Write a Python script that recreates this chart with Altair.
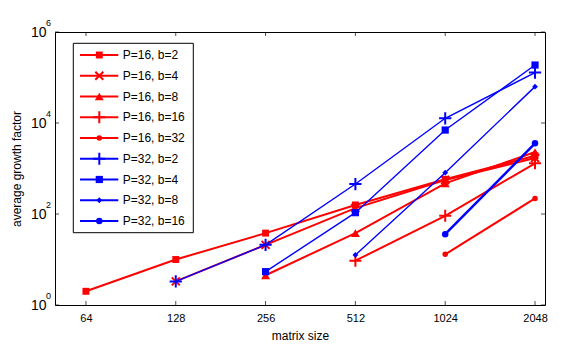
import altair as alt
import pandas as pd

# ---------------- data ----------------
sizes = [64, 128, 256, 512, 1024, 2048]

labels = ["P=16, b=2", "P=16, b=4", "P=16, b=8", "P=16, b=16", "P=16, b=32",
          "P=32, b=2", "P=32, b=4", "P=32, b=8", "P=32, b=16"]

p16_b2 = [2.0, 10, 38, 158, 580, 1900]
p16_b4 = [None, 3.3, 21, 135, 560, 1700]
p16_b8 = [None, None, 4.5, 38, 470, 2300]
p16_b16 = [None, None, None, 9.4, 91, 1300]
p16_b32 = [None, None, None, None, 13, 220]
p32_b2 = [None, 3.3, 21, 456, 12700, 128000]
p32_b4 = [None, None, 5.4, 107, 7000, 188000]
p32_b8 = [None, None, None, 12.6, 810, 63000]
p32_b16 = [None, None, None, None, 36, 3570]

series_values = [p16_b2, p16_b4, p16_b8, p16_b16, p16_b32,
                 p32_b2, p32_b4, p32_b8, p32_b16]

x_ticks = sizes
y_ticks = [1, 100, 10000, 1000000]
y_exponents = ["0", "2", "4", "6"]

# ---------------- styles ----------------
RED, BLUE = "#ff0000", "#0000ff"
X_PATH = "M-1,-1L1,1M1,-1L-1,1"
PLUS_PATH = "M-1,0L1,0M0,-1L0,1"
colors = [RED] * 5 + [BLUE] * 4
shapes = ["square", X_PATH, "triangle-up", PLUS_PATH, "circle",
          PLUS_PATH, "square", "diamond", "circle"]
filled = [True, False, True, False, True, False, True, True, True]
marker_sizes = [48, 64, 80, 144, 30, 150, 52, 34, 42]
line_widths = [2, 2, 2, 2, 2, 1.4, 1.4, 1.4, 2.5]

W, H = 490, 273
FONT = "Liberation Sans"

xscale = alt.Scale(type="log", base=2, domain=[50.4, 2212], nice=False)
yscale = alt.Scale(type="log", domain=[1, 1000000], nice=False)


def enc_x(field="size"):
    return alt.X(f"{field}:Q", scale=xscale,
                 axis=alt.Axis(values=x_ticks, format="d", ticks=False, domain=False,
                               grid=False, labelFlush=False, labelOverlap=False,
                               labelFontSize=11, labelPadding=7, labelColor="black",
                               title="matrix size", titleFontSize=12,
                               titleFontWeight="normal", titlePadding=7,
                               titleColor="black"))


def enc_y(field="value"):
    return alt.Y(f"{field}:Q", scale=yscale,
                 axis=alt.Axis(values=y_ticks, labelExpr="'10'", ticks=False,
                               domain=False, grid=False, labelFlush=False,
                               labelOverlap=False, labelFontSize=14,
                               labelPadding=9, labelColor="black",
                               labelBaseline="middle",
                               title="average growth factor", titleFontSize=12,
                               titleFontWeight="normal", titlePadding=7,
                               titleColor="black"))


layers = []

# data series
for lab, vals, col, shp, fil, ms, lw in zip(labels, series_values, colors, shapes,
                                            filled, marker_sizes, line_widths):
    df = pd.DataFrame({"size": sizes, "value": vals}).dropna()
    base = alt.Chart(df)
    layers.append(base.mark_line(color=col, strokeWidth=lw).encode(x=enc_x(), y=enc_y()))
    layers.append(base.mark_point(shape=shp, filled=fil, color=col, size=ms,
                                  strokeWidth=2 if not fil else 0, opacity=1)
                  .encode(x=enc_x(), y=enc_y()))

# inward ticks (box style)
TK = 4
xt = alt.Chart(pd.DataFrame({"size": x_ticks}))
layers.append(xt.mark_tick(color="black", thickness=1, size=TK)
              .encode(x=enc_x(), y=alt.value(H - TK / 2)))
layers.append(xt.mark_tick(color="black", thickness=1, size=TK)
              .encode(x=enc_x(), y=alt.value(TK / 2)))
yt = alt.Chart(pd.DataFrame({"value": y_ticks, "exp": y_exponents}))
layers.append(yt.mark_tick(color="black", thickness=1, size=TK)
              .encode(y=enc_y(), x=alt.value(TK / 2)))
layers.append(yt.mark_tick(color="black", thickness=1, size=TK)
              .encode(y=enc_y(), x=alt.value(W - TK / 2)))
# exponents of y labels
layers.append(yt.mark_text(align="left", baseline="middle", fontSize=9, dy=-9,
                           font=FONT, color="black")
              .encode(y=enc_y(), x=alt.value(-9), text="exp:N"))

# legend
LX0, LX1, LY0, LY1 = 18.3, 138.3, 11.3, 200.7
layers.append(alt.Chart(pd.DataFrame({"a": [0]}))
              .mark_rect(fill="white", stroke="black", strokeWidth=1)
              .encode(x=alt.value(LX0), x2=alt.value(LX1),
                      y=alt.value(LY0), y2=alt.value(LY1)))
for i, (lab, col, shp, fil, ms) in enumerate(zip(labels, colors, shapes, filled,
                                                  marker_sizes)):
    ly = 23 + 20.75 * i
    ld = alt.Chart(pd.DataFrame({"label": [lab]}))
    layers.append(ld.mark_rule(color=col, strokeWidth=2)
                  .encode(x=alt.value(25), x2=alt.value(63.3), y=alt.value(ly)))
    layers.append(ld.mark_point(shape=shp, filled=fil, color=col, size=ms,
                                strokeWidth=2 if not fil else 0, opacity=1)
                  .encode(x=alt.value(44.3), y=alt.value(ly)))
    layers.append(ld.mark_text(align="left", baseline="middle", fontSize=12,
                               font=FONT, color="black")
                  .encode(x=alt.value(67.7), y=alt.value(ly), text="label:N"))

chart = (alt.layer(*layers)
         .properties(width=W, height=H,
                     autosize=alt.AutoSizeParams(type="none"),
                     padding={"left": 47, "top": 24, "right": 10, "bottom": 50},
                     background="white")
         .configure(font=FONT)
         .configure_view(stroke="black", strokeWidth=1))

chart.save("out.html", embed_options={"renderer": "svg", "actions": False})
